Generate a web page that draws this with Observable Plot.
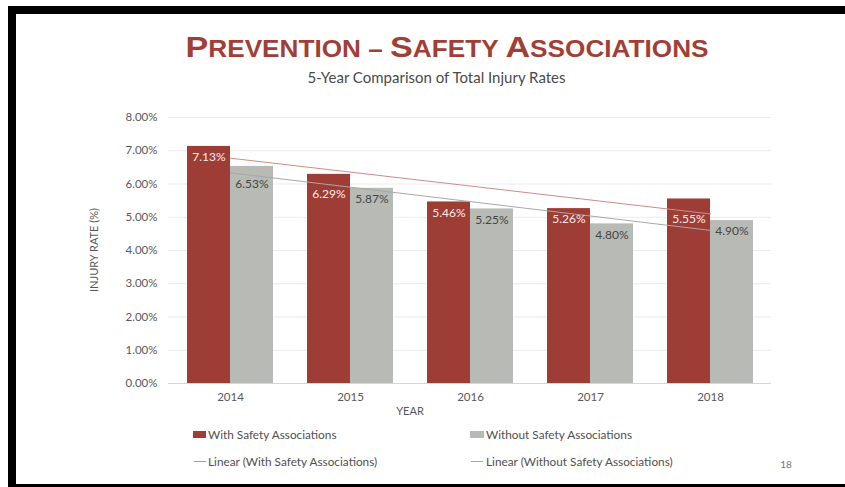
<!DOCTYPE html>
<html><head><meta charset="utf-8">
<script src="https://cdn.jsdelivr.net/npm/d3@7"></script>
<script src="https://cdn.jsdelivr.net/npm/@observablehq/plot@0.6"></script>
<style>
html,body{margin:0;padding:0;background:#fff;}
#root{position:relative;width:845px;height:487px;overflow:hidden;font-family:Lato,"Open Sans",sans-serif;}
#root svg{position:absolute;left:0;top:0;}
.abs{position:absolute;white-space:nowrap;line-height:1;}
.frame{position:absolute;background:#000;}
</style></head><body><div id="root"></div>
<script>
// ---- data ----
const years = ["2014", "2015", "2016", "2017", "2018"];
const withSA = [7.13, 6.29, 5.46, 5.26, 5.55];
const withoutSA = [6.53, 5.87, 5.25, 4.80, 4.90];
const yTicks = [0, 1, 2, 3, 4, 5, 6, 7, 8];
const seriesNames = ["With Safety Associations", "Without Safety Associations"];
const trendNames = ["Linear (With Safety Associations)", "Linear (Without Safety Associations)"];
const titleText = "PREVENTION – SAFETY ASSOCIATIONS";
const subtitleText = "5-Year Comparison of Total Injury Rates";
const yTitle = "INJURY RATE (%)";
const xTitle = "YEAR";
const pageNo = "18";

// label placement tweaks (style only): labels pushed lower to clear trend lines
const deepLabels = {with: ["2015", "2018"], without: ["2014"]};

// ---- styles ----
const RED = "#9d3d35";
const GRAY = "#b8bab5";
const RED_TREND = "#cf8b84";
const GRAY_TREND = "#a8a8a8";

const rowsWith = years.map((y, i) => ({year: y, value: withSA[i]}));
const rowsWithout = years.map((y, i) => ({year: y, value: withoutSA[i]}));
const fmt = d => d.value.toFixed(2) + "%";

const chart = Plot.plot({
  width: 845, height: 487,
  marginTop: 117, marginBottom: 104, marginLeft: 168, marginRight: 74,
  style: {fontFamily: "Lato, 'Open Sans', sans-serif", fontSize: "11.5px", color: "#595959", background: "transparent"},
  x: {type: "band", domain: years, paddingInner: 0.287, paddingOuter: 0.1435, label: null, tickSize: 0, tickPadding: 9},
  y: {domain: [0, 8], ticks: 8, tickFormat: d => d.toFixed(2) + "%", label: null, tickSize: 0, tickPadding: 11},
  marks: [
    Plot.ruleY(yTicks.filter(d => d > 0), {stroke: "#ebebeb", strokeWidth: 1}),
    Plot.ruleY([0], {stroke: "#d6d6d6", strokeWidth: 1}),
    Plot.barY(rowsWith, {x: "year", y: "value", fill: RED, insetRight: 43}),
    Plot.barY(rowsWithout, {x: "year", y: "value", fill: GRAY, insetLeft: 43}),
    Plot.linearRegressionY(rowsWith, {x: "year", y: "value", stroke: RED_TREND, strokeWidth: 1, ci: 0}),
    Plot.linearRegressionY(rowsWithout, {x: "year", y: "value", stroke: GRAY_TREND, strokeWidth: 1, ci: 0}),
    Plot.text(rowsWith.filter(d => !deepLabels.with.includes(d.year)), {x: "year", y: "value", text: fmt, dx: -21.5, dy: 11, fill: "#fdecea", fontSize: 12}),
    Plot.text(rowsWith.filter(d => deepLabels.with.includes(d.year)), {x: "year", y: "value", text: fmt, dx: -21.5, dy: 20, fill: "#fdecea", fontSize: 12}),
    Plot.text(rowsWithout.filter(d => !deepLabels.without.includes(d.year)), {x: "year", y: "value", text: fmt, dx: 21.5, dy: 11, fill: "#454545", fontSize: 12}),
    Plot.text(rowsWithout.filter(d => deepLabels.without.includes(d.year)), {x: "year", y: "value", text: fmt, dx: 21.5, dy: 18, fill: "#454545", fontSize: 12})
  ]
});

const root = document.getElementById("root");
root.appendChild(chart);

function place(html, x, y, css, anchor) {
  const d = document.createElement("div");
  d.className = "abs";
  d.innerHTML = html;
  d.style.left = x + "px";
  d.style.top = y + "px";
  Object.assign(d.style, css || {});
  d.style.transform = anchor || "translate(-50%,-50%)";
  root.appendChild(d);
  return d;
}

// title with small caps made of real uppercase text
const titleHtml = titleText.split(" ").map(w => {
  if (!/^[A-Z]/.test(w)) return `<span style="font-size:23px">${w}</span>`;
  return `<span style="font-size:30px">${w[0]}</span><span style="font-size:23px">${w.slice(1)}</span>`;
}).join('<span style="font-size:23px"> </span>');
const title = place(titleHtml, 446.5, 46.5, {fontFamily: "'Liberation Sans Narrow','Liberation Sans',Arial,sans-serif", fontWeight: "bold", color: "#a13f37"});
const tw = title.getBoundingClientRect().width;
title.style.transform = `translate(-50%,-50%) scaleX(${523 / tw})`;

place(subtitleText, 436.5, 77, {fontSize: "15px", color: "#4a4a4a"});

// axis titles
place(yTitle, 93, 250, {fontSize: "11px", color: "#595959"}, "translate(-50%,-50%) rotate(-90deg)");
place(xTitle, 410, 410, {fontSize: "11px", color: "#595959"});

// legend
function legendSwatch(x, y, w, h, color) {
  const d = document.createElement("div");
  d.style.cssText = `position:absolute;left:${x}px;top:${y}px;width:${w}px;height:${h}px;background:${color}`;
  root.appendChild(d);
}
const legendCss = {fontSize: "11.8px", color: "#505050"};
legendSwatch(193, 431, 13, 7, RED);
place(seriesNames[0], 208, 434.5, legendCss, "translate(0,-50%)");
legendSwatch(470, 431, 14, 7, GRAY);
place(seriesNames[1], 486, 434.5, legendCss, "translate(0,-50%)");
legendSwatch(194, 461, 12, 1, RED_TREND);
place(trendNames[0], 208, 461.5, legendCss, "translate(0,-50%)");
legendSwatch(471, 461, 12, 1, GRAY_TREND);
place(trendNames[1], 486, 461.5, legendCss, "translate(0,-50%)");

place(pageNo, 786, 464, {fontSize: "10px", color: "#777"});

// slide frame
[[8, 6, 837, 8], [8, 6, 8, 481], [8, 484, 837, 3]].forEach(([x, y, w, h]) => {
  const d = document.createElement("div");
  d.className = "frame";
  d.style.cssText += `left:${x}px;top:${y}px;width:${w}px;height:${h}px;`;
  root.appendChild(d);
});
</script>
</body></html>
